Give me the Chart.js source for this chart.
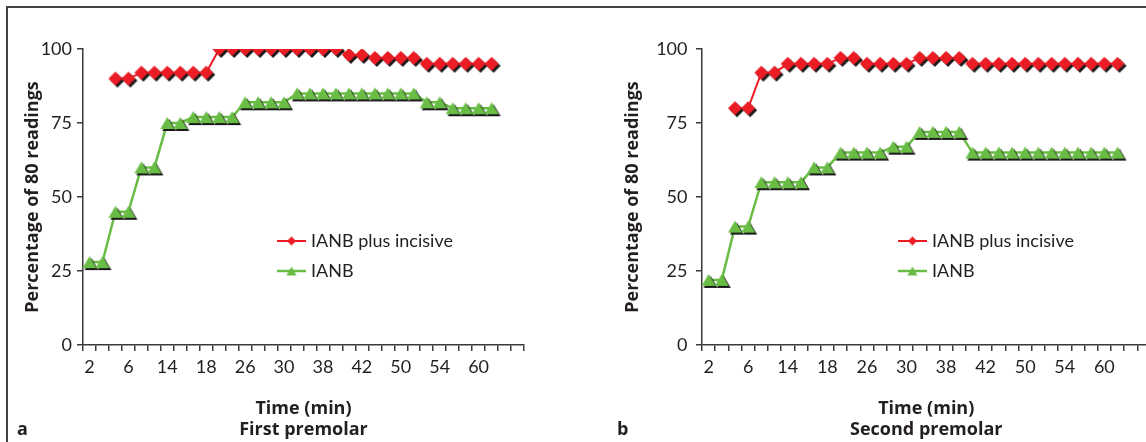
<!DOCTYPE html>
<html>
<head>
<meta charset="utf-8">
<script src="https://cdn.jsdelivr.net/npm/chart.js@4/dist/chart.umd.min.js"></script>
<style>
  html, body { margin: 0; padding: 0; background: #fff; }
  body { width: 1146px; height: 442px; position: relative; overflow: hidden; }
  .frame { position: absolute; left: 6px; top: 6px; width: 1160px; height: 460px;
           border-top: 2px solid #444; border-left: 2px solid #444; }
  .panel { position: absolute; top: 0; }
  .tag { position: absolute; top: 416px; line-height: 22px; font: bold 18px "Open Sans", sans-serif; color: #231f20; }
</style>
</head>
<body>
<div class="frame"></div>
<canvas id="chartA" class="panel" style="left:0" width="573" height="442"></canvas>
<canvas id="chartB" class="panel" style="left:600px" width="560" height="442"></canvas>
<div class="tag" style="left:17px">a</div>
<div class="tag" style="left:617px">b</div>

<script>
// x categories (every 2 min, only some labelled in the source figure)
const timeLabels = ['2','','','6','','','14','','','18','','','26','','','30','','',
                    '38','','','42','','','50','','','54','','','60','','',''];
const yTicks = [0, 25, 50, 75, 100];

// a: first premolar
const firstPlus = [null, null, 90, 90, 92, 92, 92, 92, 92, 92,
                   100, 100, 100, 100, 100, 100, 100, 100, 100, 100,
                   98, 98, 97, 97, 97, 97, 95, 95, 95, 95, 95, 95];
const firstIanb = [28, 28, 45, 45, 60, 60, 75, 75, 77, 77, 77, 77, 82, 82, 82, 82,
                   85, 85, 85, 85, 85, 85, 85, 85, 85, 85, 82, 82, 80, 80, 80, 80];

// b: second premolar
const secondPlus = [null, null, 80, 80, 92, 92, 95, 95, 95, 95, 97, 97, 95, 95, 95, 95,
                    97, 97, 97, 97, 95, 95, 95, 95, 95, 95, 95, 95, 95, 95, 95, 95];
const secondIanb = [22, 22, 40, 40, 55, 55, 55, 55, 60, 60, 65, 65, 65, 65, 67, 67,
                    72, 72, 72, 72, 65, 65, 65, 65, 65, 65, 65, 65, 65, 65, 65, 65];

const RED = '#ec1c24';
const GREEN = '#69bd45';
const INK = '#231f20';
const AXIS = '#3a3a3a';
const FONT = 'Lato, "Liberation Sans", sans-serif';
const BOLD = '"Open Sans", "Liberation Sans", sans-serif';

// marker bitmap with a hard black drop shadow, like the Excel original
function makeMarker(shape, color, w, h, shadow) {
  const off = shadow ? 2 : 0;
  const size = Math.max(w, h) + off * 2 + 2;
  const c = document.createElement('canvas');
  c.width = size; c.height = size;
  const ctx = c.getContext('2d');
  const path = (cx, cy) => {
    ctx.beginPath();
    if (shape === 'diamond') {
      ctx.moveTo(cx, cy - h / 2);
      ctx.lineTo(cx + w / 2, cy);
      ctx.lineTo(cx, cy + h / 2);
      ctx.lineTo(cx - w / 2, cy);
    } else {
      ctx.moveTo(cx, cy - h / 2);
      ctx.lineTo(cx + w / 2, cy + h / 2);
      ctx.lineTo(cx - w / 2, cy + h / 2);
    }
    ctx.closePath();
  };
  if (shadow) {
    ctx.fillStyle = '#1a1a1a';
    path(size / 2 + off, size / 2 + off);
    ctx.fill();
  }
  ctx.fillStyle = color;
  path(size / 2, size / 2);
  ctx.fill();
  return c;
}

const redMarker = makeMarker('diamond', RED, 14, 14, true);
const greenMarker = makeMarker('triangle', GREEN, 14, 12, true);
const redKey = makeMarker('diamond', RED, 9, 9, false);
const greenKey = makeMarker('triangle', GREEN, 10, 9, false);

// Excel-style legend: line with a marker in the middle
const lineLegend = {
  id: 'lineLegend',
  afterDraw(chart, args, opts) {
    const ctx = chart.ctx;
    const keys = [redKey, greenKey];
    ctx.save();
    chart.data.datasets.forEach((ds, k) => {
      const y = opts.y + k * 30;
      ctx.strokeStyle = ds.borderColor;
      ctx.lineWidth = ds.borderWidth;
      ctx.beginPath();
      ctx.moveTo(opts.x, y);
      ctx.lineTo(opts.x + 29, y);
      ctx.stroke();
      const m = keys[k];
      ctx.drawImage(m, opts.x + 14.5 - m.width / 2, y - m.height / 2);
      ctx.fillStyle = INK;
      ctx.font = '18px ' + FONT;
      ctx.textBaseline = 'middle';
      ctx.fillText(ds.label, opts.x + 34, y);
    });
    ctx.restore();
  }
};

function makeChart(id, plus, ianb, geo) {
  return new Chart(document.getElementById(id), {
    type: 'line',
    data: {
      labels: timeLabels,
      datasets: [
        { label: 'IANB plus incisive', data: plus, borderColor: RED, borderWidth: 2,
          pointStyle: redMarker, pointRadius: 7, pointHoverRadius: 7, tension: 0 },
        { label: 'IANB', data: ianb, borderColor: GREEN, borderWidth: 2.5,
          pointStyle: greenMarker, pointRadius: 7, pointHoverRadius: 7, tension: 0 }
      ]
    },
    options: {
      responsive: false,
      animation: false,
      devicePixelRatio: 1,
      layout: { padding: { top: 49, right: geo.right, bottom: 0, left: 0 } },
      plugins: {
        legend: { display: false },
        tooltip: { enabled: false },
        lineLegend: { x: geo.legendX, y: 241 }
      },
      scales: {
        x: {
          type: 'category',
          offset: true,
          grid: { drawOnChartArea: false, offset: true, tickLength: 6, color: AXIS, lineWidth: 1.5 },
          border: { display: true, color: AXIS, width: 1.5 },
          ticks: { autoSkip: false, maxRotation: 0, padding: 5, color: INK,
                   font: { family: FONT, size: 18 } },
          title: { display: true, text: ['Time (min)', geo.name], color: INK,
                   font: { family: BOLD, size: 18, weight: 'bold', lineHeight: '21px' },
                   padding: { top: 0, bottom: 1.5 } },
          afterFit(s) { s.height = 97; }
        },
        y: {
          min: 0,
          max: 100,
          afterBuildTicks(s) { s.ticks = yTicks.map(v => ({ value: v })); },
          grid: { drawOnChartArea: false, tickLength: 6, color: AXIS, lineWidth: 1.5 },
          border: { display: true, color: AXIS, width: 1.5 },
          ticks: { padding: geo.tickPad, color: INK, font: { family: FONT, size: 18 } },
          title: { display: true, text: 'Percentage of 80 readings', color: INK,
                   font: { family: BOLD, size: 18, weight: 'bold' },
                   padding: { top: 21.7, bottom: 0 } },
          afterFit(s) { s.width = geo.yWidth; }
        }
      }
    },
    plugins: [lineLegend]
  });
}

makeChart('chartA', firstPlus, firstIanb,
  { name: 'First premolar', right: 49, yWidth: 83, tickPad: 5, legendX: 277 });
makeChart('chartB', secondPlus, secondIanb,
  { name: 'Second premolar', right: 9, yWidth: 102, tickPad: 8.5, legendX: 298 });
</script>
</body>
</html>
